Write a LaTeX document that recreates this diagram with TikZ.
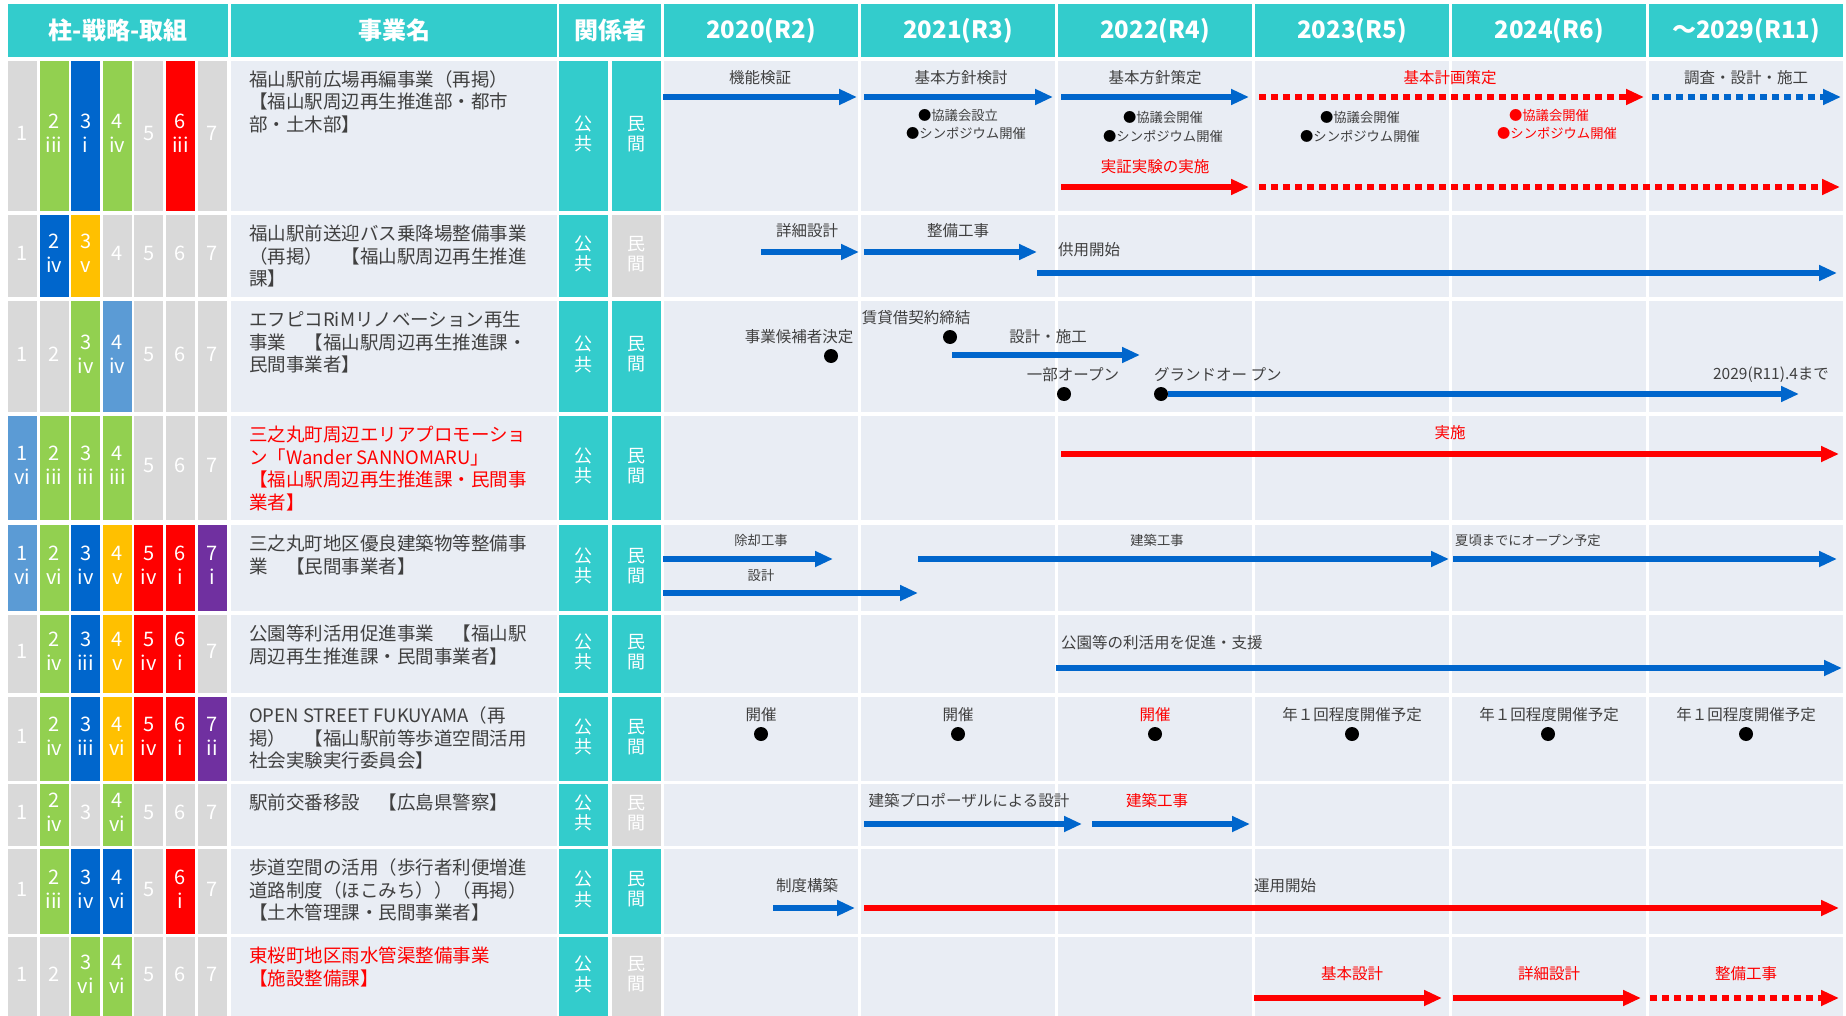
\documentclass[tikz,border=0pt]{standalone}
\usepackage{fontspec}
\setmainfont{Noto Sans CJK JP}
\usetikzlibrary{arrows.meta}
\definecolor{hteal}{HTML}{33CCCC}
\definecolor{lgrey}{HTML}{D9D9D9}
\definecolor{cbg}{HTML}{E9EDF4}
\definecolor{cgreen}{HTML}{92D050}
\definecolor{cblue}{HTML}{0066CC}
\definecolor{clblue}{HTML}{5B9BD5}
\definecolor{cyellow}{HTML}{FFC000}
\definecolor{cred}{HTML}{FF0000}
\definecolor{cpurple}{HTML}{7030A0}
\definecolor{tgrey}{HTML}{404040}
\tikzset{
 hdr/.style={text=white,font=\fontsize{24}{28}\selectfont\bfseries,inner sep=0},
 num/.style={text=white,font=\fontsize{20}{24}\selectfont,inner sep=0},
 vtx/.style={text=white,font=\fontsize{18}{19}\selectfont,inner sep=0},
 nm/.style={anchor=base west,inner sep=0,text=tgrey,font=\fontsize{18.5}{22.5}\selectfont},
 lbl/.style={inner sep=0,text=tgrey,font=\fontsize{15.5}{18}\selectfont},
 slbl/.style={inner sep=0,text=tgrey,font=\fontsize{13.3}{16}\selectfont},
 rtx/.style={text=cred},
 arr/.style={line width=6.5pt,-{Triangle[length=18pt,width=15pt]}},
 barr/.style={arr,draw=cblue},
 rarr/.style={arr,draw=cred},
 dsh/.style={dash pattern=on 7pt off 5pt},
 dotn/.style={circle,fill=black,minimum size=14pt,inner sep=0},
}
\newcommand\rowset[3]{\def\myrid{#1}\def\myrt{#2}\def\myrb{#3}\pgfmathsetmacro\myrc{(#2+#3)/2}
 \fill[cbg] (231,#2) rectangle (557,#3);
 \foreach \k in {0,...,5}{\fill[cbg] ({664+197*\k},#2) rectangle ({858+197*\k},#3);}}
\newcommand\lcell[3]{\pgfmathsetmacro\xa{8+(#1-1)*31.6}\pgfmathsetmacro\xb{\xa+29}\pgfmathsetmacro\xm{\xa+14.5}
 \fill[#2] (\xa,\myrt) rectangle (\xb,\myrb);
 \node[num] (L\myrid c#1) at (\xm,\myrc) {\begin{tabular}{@{}c@{}}#3\end{tabular}};}
\newcommand\kcell[1]{\fill[hteal] (559,\myrt) rectangle (608,\myrb);
 \node[vtx] (K\myrid) at (583.5,\myrc) {\begin{tabular}{@{}c@{}}公\\共\end{tabular}};
 \fill[#1] (612,\myrt) rectangle (661,\myrb);
 \node[vtx] (M\myrid) at (636.5,\myrc) {\begin{tabular}{@{}c@{}}民\\間\end{tabular}};}
\newcommand\pname[2]{\node[nm,text=#1] (N\myrid) at (249,{\myrt+25.5}) {\begin{tabular}[t]{@{}l@{}}#2\end{tabular}};}
\newcommand\tlab[5]{\node[#2] (#1) at (#3,#4) {#5};}
\newcommand\tdot[3]{\node[dotn] (#1) at (#2,#3) {};}
\newcommand\arw[5]{\coordinate (#1s) at (#2,#4); \coordinate (#1e) at (#3,#4); \draw[#5] (#1s) -- (#1e);}
\newcommand\bk{\textcolor{black}{●}}
\begin{document}
\begin{tikzpicture}[x=1pt,y=-1pt]
\fill[white] (0,0) rectangle (1846,1016);
\useasboundingbox (0,0) rectangle (1846,1016);
% header
\fill[hteal] (8,4) rectangle (228,57); \node[hdr] (h0) at (118,30.5) {柱-戦略-取組};
\fill[hteal] (231,4) rectangle (557,57); \node[hdr] (h1) at (394,30.5) {事業名};
\fill[hteal] (559,4) rectangle (661,57); \node[hdr] (h2) at (610,30.5) {関係者};
\fill[hteal] (664,4) rectangle (858,57); \node[hdr] (y1) at (761,30.5) {2020(R2)};
\fill[hteal] (861,4) rectangle (1055,57); \node[hdr] (y2) at (958,30.5) {2021(R3)};
\fill[hteal] (1058,4) rectangle (1252,57); \node[hdr] (y3) at (1155,30.5) {2022(R4)};
\fill[hteal] (1255,4) rectangle (1449,57); \node[hdr] (y4) at (1352,30.5) {2023(R5)};
\fill[hteal] (1452,4) rectangle (1646,57); \node[hdr] (y5) at (1549,30.5) {2024(R6)};
\fill[hteal] (1649,4) rectangle (1843,57); \node[hdr] (y6) at (1746,30.5) {～2029(R11)};
% row 1
\rowset{1}{61}{211}
\lcell{1}{lgrey}{1}\lcell{2}{cgreen}{2\\iii}\lcell{3}{cblue}{3\\i}\lcell{4}{cgreen}{4\\iv}\lcell{5}{lgrey}{5}\lcell{6}{cred}{6\\iii}\lcell{7}{lgrey}{7}
\kcell{hteal}
\pname{tgrey}{福山駅前広場再編事業（再掲）\\【福山駅周辺再生推進部・都市\\部・土木部】}
\tlab{t11}{lbl}{760}{78}{機能検証}
\arw{a11}{663}{857}{97}{barr}
\tlab{t12}{lbl}{961}{78}{基本方針検討}
\arw{a12}{864}{1053}{97}{barr}
\tlab{t13}{slbl}{958}{115}{\bk 協議会設立}
\tlab{t14}{slbl}{966}{133}{\bk シンポジウム開催}
\tlab{t15}{lbl}{1155}{78}{基本方針策定}
\arw{a13}{1061}{1249}{97}{barr}
\tlab{t16}{slbl}{1163}{117}{\bk 協議会開催}
\tlab{t17}{slbl}{1163}{136}{\bk シンポジウム開催}
\tlab{t18}{lbl,rtx}{1155}{167}{実証実験の実施}
\arw{a14}{1061}{1249}{187}{rarr}
\tlab{t19}{lbl,rtx}{1450}{78}{基本計画策定}
\arw{a15}{1259}{1644}{97}{rarr,dsh}
\tlab{t1a}{slbl}{1360}{117}{\bk 協議会開催}
\tlab{t1b}{slbl}{1360}{136}{\bk シンポジウム開催}
\tlab{t1c}{slbl,rtx}{1549}{115}{●協議会開催}
\tlab{t1d}{slbl,rtx}{1557}{133}{●シンポジウム開催}
\tlab{t1e}{lbl}{1746}{78}{調査・設計・施工}
\arw{a16}{1652}{1841}{97}{barr,dsh}
\arw{a17}{1259}{1840}{187}{rarr,dsh}
% row 2
\rowset{2}{215}{297}
\lcell{1}{lgrey}{1}\lcell{2}{cblue}{2\\iv}\lcell{3}{cyellow}{3\\v}\lcell{4}{lgrey}{4}\lcell{5}{lgrey}{5}\lcell{6}{lgrey}{6}\lcell{7}{lgrey}{7}
\kcell{lgrey}
\pname{tgrey}{福山駅前送迎バス乗降場整備事業\\（再掲）　【福山駅周辺再生推進\\課】}
\tlab{t21}{lbl}{807}{231}{詳細設計}
\arw{a21}{761}{859}{252}{barr}
\tlab{t22}{lbl}{958}{231}{整備工事}
\arw{a22}{864}{1037}{252}{barr}
\tlab{t23}{lbl,anchor=west}{1058}{250}{供用開始}
\arw{a23}{1037}{1837}{273}{barr}
% row 3
\rowset{3}{301}{412}
\lcell{1}{lgrey}{1}\lcell{2}{lgrey}{2}\lcell{3}{cgreen}{3\\iv}\lcell{4}{clblue}{4\\iv}\lcell{5}{lgrey}{5}\lcell{6}{lgrey}{6}\lcell{7}{lgrey}{7}
\kcell{hteal}
\pname{tgrey}{エフピコRiMリノベーション再生\\事業　【福山駅周辺再生推進課・\\民間事業者】}
\tlab{t31}{lbl}{799}{337}{事業候補者決定}
\tdot{d31}{831}{356}
\tlab{t32}{lbl}{916}{318}{賃貸借契約締結}
\tdot{d32}{950}{337}
\tlab{t33}{lbl}{1048}{337}{設計・施工}
\arw{a31}{952}{1140}{355}{barr}
\tlab{t34}{lbl}{1073}{375}{一部オープン}
\tdot{d33}{1064}{394}
\tlab{t35}{lbl,anchor=west}{1154}{375}{グランドオー プン}
\tdot{d34}{1161}{394}
\coordinate (a32e) at (1799,394);
\draw[barr] (d34.east) -- (a32e);
\tlab{t36}{lbl}{1771}{375}{2029(R11).4まで}
% row 4
\rowset{4}{416}{520}
\lcell{1}{clblue}{1\\vi}\lcell{2}{cgreen}{2\\iii}\lcell{3}{cgreen}{3\\iii}\lcell{4}{cgreen}{4\\iii}\lcell{5}{lgrey}{5}\lcell{6}{lgrey}{6}\lcell{7}{lgrey}{7}
\kcell{hteal}
\pname{cred}{三之丸町周辺エリアプロモーショ\\ン「Wander SANNOMARU」\\【福山駅周辺再生推進課・民間事\\業者】}
\tlab{t41}{lbl,rtx}{1450}{433}{実施}
\arw{a41}{1061}{1839}{454}{rarr}
% row 5
\rowset{5}{525}{611}
\lcell{1}{clblue}{1\\vi}\lcell{2}{cgreen}{2\\vi}\lcell{3}{cblue}{3\\iv}\lcell{4}{cyellow}{4\\v}\lcell{5}{cred}{5\\iv}\lcell{6}{cred}{6\\i}\lcell{7}{cpurple}{7\\i}
\kcell{hteal}
\pname{tgrey}{三之丸町地区優良建築物等整備事\\業　【民間事業者】}
\tlab{t51}{slbl}{761}{540}{除却工事}
\arw{a51}{663}{833}{559}{barr}
\tlab{t52}{slbl}{761}{575}{設計}
\arw{a52}{663}{918}{593}{barr}
\tlab{t53}{slbl}{1157}{540}{建築工事}
\arw{a53}{918}{1449}{559}{barr}
\tlab{t54}{slbl,anchor=west}{1455}{540}{夏頃までにオープン予定}
\arw{a54}{1453}{1837}{559}{barr}
% row 6
\rowset{6}{615}{693}
\lcell{1}{lgrey}{1}\lcell{2}{cgreen}{2\\iv}\lcell{3}{cblue}{3\\iii}\lcell{4}{cyellow}{4\\v}\lcell{5}{cred}{5\\iv}\lcell{6}{cred}{6\\i}\lcell{7}{lgrey}{7}
\kcell{hteal}
\pname{tgrey}{公園等利活用促進事業　【福山駅\\周辺再生推進課・民間事業者】}
\tlab{t61}{lbl,anchor=west}{1061}{643}{公園等の利活用を促進・支援}
\arw{a61}{1056}{1842}{668}{barr}
% row 7
\rowset{7}{697}{781}
\lcell{1}{lgrey}{1}\lcell{2}{cgreen}{2\\iv}\lcell{3}{cblue}{3\\iii}\lcell{4}{cyellow}{4\\vi}\lcell{5}{cred}{5\\iv}\lcell{6}{cred}{6\\i}\lcell{7}{cpurple}{7\\ii}
\kcell{hteal}
\pname{tgrey}{OPEN STREET FUKUYAMA（再\\掲）　【福山駅前等歩道空間活用\\社会実験実行委員会】}
\tlab{t71}{lbl}{761}{715}{開催}\tdot{d71}{761}{734}
\tlab{t72}{lbl}{958}{715}{開催}\tdot{d72}{958}{734}
\tlab{t73}{lbl,rtx}{1155}{715}{開催}\tdot{d73}{1155}{734}
\tlab{t74}{lbl}{1352}{715}{年１回程度開催予定}\tdot{d74}{1352}{734}
\tlab{t75}{lbl}{1549}{715}{年１回程度開催予定}\tdot{d75}{1548}{734}
\tlab{t76}{lbl}{1746}{715}{年１回程度開催予定}\tdot{d76}{1746}{734}
% row 8
\rowset{8}{784}{846}
\lcell{1}{lgrey}{1}\lcell{2}{cgreen}{2\\iv}\lcell{3}{lgrey}{3}\lcell{4}{cgreen}{4\\vi}\lcell{5}{lgrey}{5}\lcell{6}{lgrey}{6}\lcell{7}{lgrey}{7}
\kcell{lgrey}
\pname{tgrey}{駅前交番移設　【広島県警察】}
\tlab{t81}{lbl}{969}{801}{建築プロポーザルによる設計}
\arw{a81}{864}{1082}{824}{barr}
\tlab{t82}{lbl,rtx}{1157}{801}{建築工事}
\arw{a82}{1092}{1250}{824}{barr}
% row 9
\rowset{9}{849}{934}
\lcell{1}{lgrey}{1}\lcell{2}{cgreen}{2\\iii}\lcell{3}{cblue}{3\\iv}\lcell{4}{cblue}{4\\vi}\lcell{5}{lgrey}{5}\lcell{6}{cred}{6\\i}\lcell{7}{lgrey}{7}
\kcell{hteal}
\pname{tgrey}{歩道空間の活用（歩行者利便増進\\道路制度（ほこみち））（再掲）\\【土木管理課・民間事業者】}
\tlab{t91}{lbl}{807}{886}{制度構築}
\arw{a91}{773}{855}{908}{barr}
\tlab{t92}{lbl,anchor=west}{1254}{886}{運用開始}
\arw{a92}{864}{1839}{908}{rarr}
% row 10
\rowset{10}{937}{1016}
\lcell{1}{lgrey}{1}\lcell{2}{lgrey}{2}\lcell{3}{cgreen}{3\\vi}\lcell{4}{cgreen}{4\\vi}\lcell{5}{lgrey}{5}\lcell{6}{lgrey}{6}\lcell{7}{lgrey}{7}
\kcell{lgrey}
\pname{cred}{東桜町地区雨水管渠整備事業\\【施設整備課】}
\tlab{ta1}{lbl,rtx}{1352}{974}{基本設計}
\arw{aa1}{1254}{1442}{998}{rarr}
\tlab{ta2}{lbl,rtx}{1549}{974}{詳細設計}
\arw{aa2}{1453}{1641}{998}{rarr}
\tlab{ta3}{lbl,rtx}{1746}{974}{整備工事}
\arw{aa3}{1650}{1839}{998}{rarr,dsh}
\end{tikzpicture}
\end{document}
